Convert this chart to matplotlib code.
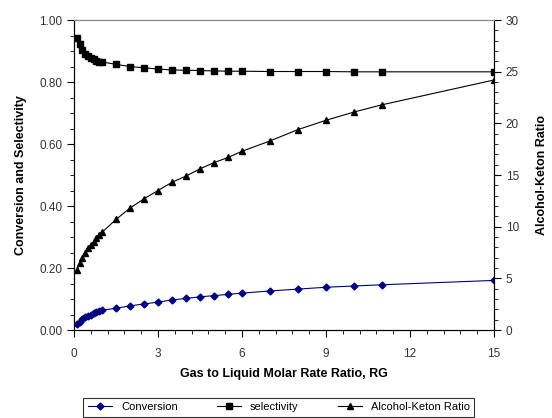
import matplotlib.pyplot as plt
from matplotlib.ticker import MultipleLocator, FormatStrFormatter

plt.rcParams['font.family'] = ['Liberation Sans', 'DejaVu Sans']

# gas to liquid molar rate ratio
rg = [0.1, 0.2, 0.3, 0.4, 0.5, 0.6, 0.7, 0.8, 0.9, 1.0,
      1.5, 2.0, 2.5, 3.0, 3.5, 4.0, 4.5, 5.0, 5.5, 6.0,
      7.0, 8.0, 9.0, 10.0, 11.0, 15.0]

conversion = [0.019, 0.027, 0.035, 0.041, 0.045, 0.049, 0.054, 0.057, 0.060, 0.064,
              0.070, 0.078, 0.084, 0.090, 0.097, 0.102, 0.107, 0.111, 0.115, 0.119,
              0.126, 0.132, 0.138, 0.142, 0.146, 0.160]

selectivity = [0.943, 0.922, 0.905, 0.892, 0.884, 0.878, 0.873, 0.869, 0.866, 0.865,
               0.857, 0.850, 0.846, 0.842, 0.839, 0.838, 0.837, 0.836, 0.835, 0.835,
               0.834, 0.834, 0.834, 0.833, 0.833, 0.833]

alc_keton = [5.8, 6.45, 7.0, 7.5, 7.9, 8.2, 8.55, 8.9, 9.2, 9.45,
             10.7, 11.8, 12.7, 13.5, 14.3, 14.9, 15.6, 16.2, 16.7, 17.3,
             18.3, 19.4, 20.3, 21.1, 21.8, 24.2]

fig = plt.figure(figsize=(5.52, 4.18), dpi=100)
ax = fig.add_axes([0.134, 0.2105, 0.761, 0.7415])
ax2 = ax.twinx()

l1, = ax.plot(rg, conversion, color='#000080', lw=0.8, marker='D', ms=3.5,
              label='Conversion')
l2, = ax.plot(rg, selectivity, color='black', lw=0.8, marker='s', ms=3.8,
              label='selectivity')
l3, = ax2.plot(rg, alc_keton, color='black', lw=0.8, marker='^', ms=5,
               label='Alcohol-Keton Ratio')

ax.set_xlim(0, 15)
ax.set_ylim(0, 1.0)
ax2.set_ylim(0, 30)

ax.xaxis.set_major_locator(MultipleLocator(3))
ax.xaxis.set_minor_locator(MultipleLocator(0.6))
ax.yaxis.set_major_locator(MultipleLocator(0.2))
ax.yaxis.set_minor_locator(MultipleLocator(0.05))
ax.yaxis.set_major_formatter(FormatStrFormatter('%.2f'))
ax2.yaxis.set_major_locator(MultipleLocator(5))
ax2.yaxis.set_minor_locator(MultipleLocator(1))

for a in (ax, ax2):
    a.tick_params(which='major', length=5, width=0.8, labelsize=8.5,
                  labelcolor='#333333')
    a.tick_params(which='minor', length=3, width=0.6)
    a.spines['top'].set_color('#888888')
ax.tick_params(axis='x', pad=8)

ax.set_xlabel('Gas to Liquid Molar Rate Ratio, RG', fontsize=9, fontweight='bold',
              labelpad=6)
ax.set_ylabel('Conversion and Selectivity', fontsize=9, fontweight='bold',
              labelpad=9)
ax2.set_ylabel('Alcohol-Keton Ratio', fontsize=9, fontweight='bold', labelpad=12)

leg = fig.legend(handles=[l1, l2, l3], loc='upper center', ncol=3,
                 bbox_to_anchor=(0.505, 0.048), borderaxespad=0, fontsize=8,
                 frameon=True, fancybox=False, edgecolor='black',
                 handlelength=2.2, columnspacing=3.5, borderpad=0.4)
leg.get_frame().set_linewidth(0.8)

fig.savefig('out.png', dpi=100)
